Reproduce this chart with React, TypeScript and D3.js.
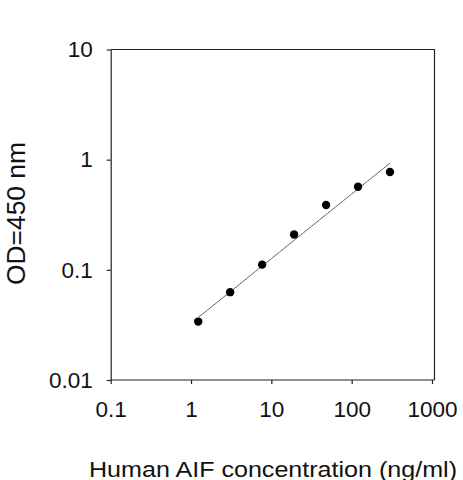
import * as d3 from 'd3';
import * as React from 'react';

const WIDTH = 463;
const HEIGHT = 480;

// standard curve
const concentrations = [1.23, 3.07, 7.68, 19.2, 48, 120, 300];
const odValues = [0.0339, 0.0627, 0.1115, 0.2096, 0.388, 0.567, 0.772];

// fitted power curve: OD = a * conc^b
const fitA = 0.0327;
const fitB = 0.587;

const xTicks = [0.1, 1, 10, 100, 1000];
const yTicks = [0.01, 0.1, 1, 10];
const xTickLabels = ['0.1', '1', '10', '100', '1000'];
const yTickLabels = ['0.01', '0.1', '1', '10'];

const xTitle = 'Human AIF concentration (ng/ml)';
const yTitle = 'OD=450 nm';

const FONT = 'Arial, "Liberation Sans", sans-serif';

const margin = { left: 110.7, right: 31, top: 49.5, bottom: 100 };

export default function App() {
  const ref = React.useRef<SVGSVGElement | null>(null);

  React.useEffect(() => {
    const svg = d3.select(ref.current);
    svg.selectAll('*').remove();

    const x = d3
      .scaleLog()
      .domain([0.1, 1000])
      .range([margin.left, WIDTH - margin.right]);
    const y = d3
      .scaleLog()
      .domain([0.01, 10])
      .range([HEIGHT - margin.bottom, margin.top]);

    const x0 = x(0.1);
    const x1 = x(1000);
    const y0 = y(0.01);
    const y1 = y(10);

    // top + right frame
    svg
      .append('path')
      .attr('d', `M${x0},${y1}H${x1 + 2.5}V${y0}`)
      .attr('fill', 'none')
      .attr('stroke', '#222')
      .attr('stroke-width', 1.2);

    const xAxis = svg
      .append('g')
      .attr('transform', `translate(0,${y0})`)
      .call(
        d3
          .axisBottom(x)
          .tickValues(xTicks)
          .tickFormat((d, i) => xTickLabels[i])
          .tickSize(4)
          .tickPadding(17)
          .tickSizeOuter(0)
      );
    xAxis.select('.domain').attr('d', `M${x0},0H${x1 + 2.5}`);

    const yAxis = svg
      .append('g')
      .attr('transform', `translate(${x0},0)`)
      .call(
        d3
          .axisLeft(y)
          .tickValues(yTicks)
          .tickFormat((d, i) => yTickLabels[i])
          .tickSize(4)
          .tickPadding(14)
          .tickSizeOuter(0)
      );

    [xAxis, yAxis].forEach(g => {
      g.select('.domain').attr('stroke', '#222').attr('stroke-width', 1.2);
      g.selectAll('.tick line').attr('stroke', '#222').attr('stroke-width', 1.2);
      g.selectAll('.tick text')
        .attr('font-family', FONT)
        .attr('font-size', 22.5)
        .attr('fill', '#111');
    });

    // fitted line
    const fitDomain = d3.extent(concentrations) as [number, number];
    const fitPts = d3
      .ticks(Math.log10(fitDomain[0]), Math.log10(fitDomain[1]), 20)
      .concat([Math.log10(fitDomain[0]), Math.log10(fitDomain[1])])
      .sort((a, b) => a - b)
      .map(l => Math.pow(10, l));
    svg
      .append('path')
      .datum(fitPts)
      .attr('fill', 'none')
      .attr('stroke', '#666')
      .attr('stroke-width', 1)
      .attr(
        'd',
        d3
          .line<number>()
          .x(d => x(d))
          .y(d => y(fitA * Math.pow(d, fitB)))
      );

    // points
    svg
      .selectAll('.pt')
      .data(concentrations)
      .enter()
      .append('circle')
      .attr('class', 'pt')
      .attr('cx', d => x(d))
      .attr('cy', (d, i) => y(odValues[i]))
      .attr('r', 4.2)
      .attr('fill', '#000');

    // titles
    svg
      .append('text')
      .attr('x', 273)
      .attr('y', 476.5)
      .attr('text-anchor', 'middle')
      .attr('font-family', FONT)
      .attr('font-size', 21.5)
      .attr('textLength', 368)
      .attr('lengthAdjust', 'spacingAndGlyphs')
      .attr('fill', '#111')
      .text(xTitle);

    svg
      .append('text')
      .attr('transform', `translate(25,213.5) rotate(-90)`)
      .attr('text-anchor', 'middle')
      .attr('font-family', FONT)
      .attr('font-size', 25)
      .attr('textLength', 143)
      .attr('lengthAdjust', 'spacingAndGlyphs')
      .attr('fill', '#111')
      .text(yTitle);
  }, []);

  return (
    <svg
      ref={ref}
      width={WIDTH}
      height={HEIGHT}
      viewBox={`0 0 ${WIDTH} ${HEIGHT}`}
      style={{ position: 'absolute', left: 0, top: 0, background: '#fff' }}
    />
  );
}
